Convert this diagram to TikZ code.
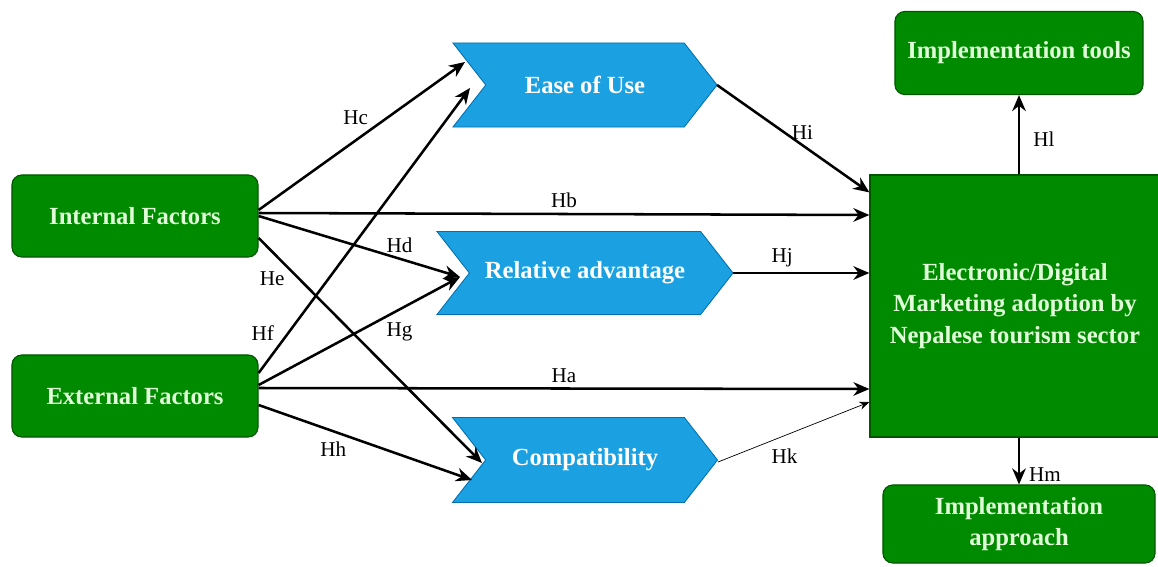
\documentclass[tikz,border=0pt]{standalone}
\usepackage{fontspec}
\setmainfont{Liberation Serif}
\usetikzlibrary{positioning}
\usetikzlibrary{arrows.meta}
\usetikzlibrary{shapes.symbols}
\usetikzlibrary{calc}
\definecolor{boxgreen}{HTML}{008A00}
\definecolor{boxgreenline}{HTML}{005700}
\definecolor{boxblue}{HTML}{1BA1E2}
\definecolor{boxblueline}{HTML}{006EAF}
\definecolor{boxtext}{HTML}{E0FFD8}
\tikzset{>={Stealth[width=3.4mm,length=4mm]}}
\tikzset{
    factor/.style={draw=boxgreenline, line width=0.8pt, rounded corners=7pt, fill=boxgreen, text=boxtext, font=\fontsize{17.5}{22.4}\selectfont\bfseries, align=center},
    stage/.style={signal, signal from=west, signal to=east, signal pointer angle=104, draw=boxblueline, line width=0.6pt, fill=boxblue, text=white, font=\fontsize{17.5}{22.4}\selectfont\bfseries},
    hyp/.style={font=\fontsize{15}{18}\selectfont, color=black},
    link/.style={draw, ->, line width=1.8pt}
}

\begin{document}
\begin{tikzpicture}[x=0.025cm, y=-0.025cm]
    \useasboundingbox (0,0) rectangle (1158,566);

    \node (int) at (135,216) [factor, minimum width=6.15cm, minimum height=2.05cm] {Internal Factors};
    \node (ext) at (135,396) [factor, minimum width=6.15cm, minimum height=2.05cm] {External Factors};

    \node (ease) at (585,85) [stage, minimum width=6.6cm, minimum height=2.1cm] {Ease of Use};
    \node (rel) at (585,273) [stage, minimum width=7.4cm, minimum height=2.075cm] {Relative advantage};
    \node (comp) at (585,460) [stage, minimum width=6.625cm, minimum height=2.125cm] {Compatibility};

    \node (adopt) at (1015,306) [factor, rounded corners=0pt, minimum width=7.25cm, minimum height=6.55cm] {Electronic/Digital\\Marketing adoption by\\Nepalese tourism sector};
    \node (tools) at (1019,53) [factor, minimum width=6.2cm, minimum height=2.075cm] {Implementation tools};
    \node (appr) at (1019,524) [factor, minimum width=6.8cm, minimum height=1.95cm] {Implementation\\approach};

    % factors to the three stages
    \path [link] ($(int.east)+(0,-6)$) -- node [hyp, pos=0.47, above=7pt] {Hc} ($(ease.center)+(-120,-23)$);
    \path [link] ($(int.east)+(0,0)$) -- node [hyp, pos=0.7, above] {Hd} ($(rel.center)+(-125,4)$);
    \path [link] ($(int.east)+(0,22)$) -- node [hyp, pos=0.18, left=6pt] {He} ($(comp.center)+(-103,3)$);
    \path [link] ($(ext.east)+(0,-23)$) -- node [hyp, pos=0.14, left=6pt] {Hf} ($(ease.center)+(-115,3)$);
    \path [link] ($(ext.east)+(0,-11)$) -- node [hyp, pos=0.7, below=5pt] {Hg} ($(rel.center)+(-125,4)$);
    \path [link] ($(ext.east)+(0,9)$) -- node [hyp, pos=0.35, below=3pt] {Hh} ($(comp.center)+(-113,20)$);

    % direct paths
    \path [link] ($(int.east)+(0,-3)$) -- node [hyp, above] {Hb} ($(int.east -| adopt.west)+(0,-1)$);
    \path [link] ($(ext.east)+(0,-8)$) -- node [hyp, above] {Ha} ($(ext.east -| adopt.west)+(0,-7)$);

    % stages to adoption
    \path [link] ($(ease.center)+(132,0)$) -- node [hyp, pos=0.56, above] {Hi} ($(adopt.north west)+(0,18)$);
    \path [link] ($(rel.center)+(148,0)$) -- node [hyp, pos=0.36, above] {Hj} (rel.center -| adopt.west);
    \path [draw, ->, line width=0.5pt, >={Stealth[width=2mm,length=2.5mm]}] ($(comp.center)+(133,2)$) -- node [hyp, pos=0.44, below=6pt] {Hk} ($(adopt.west)+(0,96)$);

    % adoption outputs
    \path [link] (adopt.north -| tools.south) -- node [hyp, pos=0.45, right=6pt] {Hl} (tools.south);
    \path [link] (adopt.south -| appr.north) -- node [hyp, pos=0.8, right=3pt] {Hm} (appr.north);
\end{tikzpicture}
\end{document}
